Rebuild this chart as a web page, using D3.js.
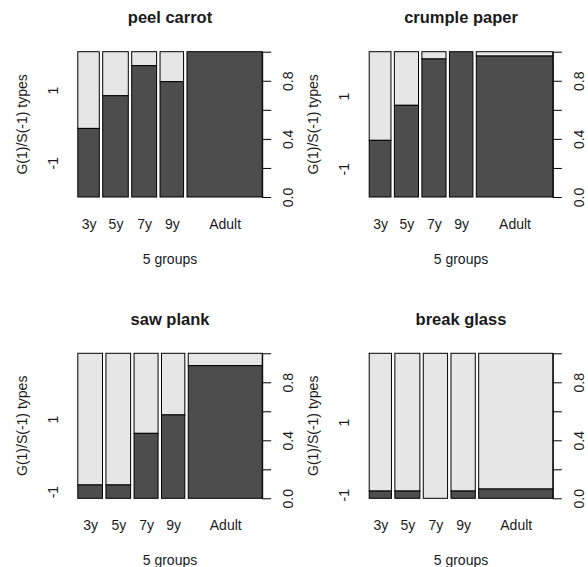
<!DOCTYPE html>
<html>
<head>
<meta charset="utf-8">
<script src="https://cdn.jsdelivr.net/npm/d3@7"></script>
<style>
  body { margin: 0; background: #fff; }
  svg { display: block; font-family: "Liberation Sans", Arial, sans-serif; }
  text { fill: #1a1a1a; }
  .axis text { font-size: 14px; }
  .axis path, .axis line { stroke: #000; }
</style>
</head>
<body>
<svg id="chart"></svg>
<script>
"use strict";
const W = 588, H = 567;

// data
const groups = ["3y", "5y", "7y", "9y", "Adult"];
const tasks = ["peel carrot", "crumple paper", "saw plank", "break glass"];
// relative group sizes (bar widths) per task
const sizePeel    = [12.6, 15.0, 14.6, 13.8, 44.1];
const sizeCrumple = [12.8, 14.2, 14.2, 13.8, 45.0];
const sizeSaw     = [14.5, 14.5, 14.1, 13.7, 43.4];
const sizeBreak   = [13.1, 14.7, 14.3, 14.3, 43.6];
// share of S(-1) answers (dark part) per group
const shareSPeel    = [0.472, 0.697, 0.904, 0.794, 1.0];
const shareSCrumple = [0.390, 0.631, 0.950, 1.0, 0.970];
const shareSSaw     = [0.092, 0.092, 0.448, 0.575, 0.915];
const shareSBreak   = [0.050, 0.050, 0.0, 0.050, 0.064];
const yLevels = ["-1", "1"];
const rightTicks = [0, 0.2, 0.4, 0.6, 0.8, 1.0];

const sizes = [sizePeel, sizeCrumple, sizeSaw, sizeBreak];
const shares = [shareSPeel, shareSCrumple, shareSSaw, shareSBreak];

// plot regions (left, right, top, bottom)
const regions = [
  [77.8, 262.2, 51.7, 197],
  [369.2, 552.8, 51.7, 197],
  [77.8, 262.2, 353.3, 498.3],
  [369.2, 552.8, 353.3, 498.3]
];
const off = 0.02; // gap between bars, like spineplot

const svg = d3.select("#chart").attr("width", W).attr("height", H);
svg.append("rect").attr("width", W).attr("height", H).attr("fill", "#fff");

function drawPanel(i) {
  const [x0, x1, y0, y1] = regions[i];
  const total = d3.sum(sizes[i]);
  const props = sizes[i].map(v => v / total);
  let acc = 0;
  const bars = groups.map((g, j) => {
    const b = {group: g, start: acc, width: props[j], s: shares[i][j]};
    acc += props[j] + off;
    return b;
  });

  const xScale = d3.scaleLinear().domain([0, 1 + off * (groups.length - 1)]).range([x0, x1]);
  const yScale = d3.scaleLinear().domain([0, 1]).range([y1, y0]);
  const g = svg.append("g");

  // light part (G = 1) then dark part (S = -1)
  g.selectAll(".light").data(bars).enter().append("rect")
      .attr("x", d => xScale(d.start))
      .attr("width", d => xScale(d.start + d.width) - xScale(d.start))
      .attr("y", yScale(1))
      .attr("height", d => yScale(d.s) - yScale(1))
      .attr("fill", "#e6e6e6").attr("stroke", "#000").attr("stroke-width", 1);
  g.selectAll(".dark").data(bars.filter(d => d.s > 0)).enter().append("rect")
      .attr("x", d => xScale(d.start))
      .attr("width", d => xScale(d.start + d.width) - xScale(d.start))
      .attr("y", d => yScale(d.s))
      .attr("height", d => yScale(0) - yScale(d.s))
      .attr("fill", "#4d4d4d").attr("stroke", "#000").attr("stroke-width", 1);

  // right axis with proportions
  const right = g.append("g").attr("class", "axis")
      .attr("transform", `translate(${x1},0)`)
      .call(d3.axisRight(yScale).tickValues(rightTicks).tickSize(9).tickSizeOuter(0)
        .tickFormat(d => [0, 0.4, 0.8].includes(d) ? d3.format(".1f")(d) : ""));
  right.selectAll("text")
      .attr("x", null).attr("dy", null)
      .attr("text-anchor", "middle")
      .attr("transform", "translate(31,0) rotate(-90)");

  // left axis: levels at the middle of the first bar's parts
  const first = bars[0];
  const leftScale = d3.scalePoint().domain(yLevels)
      .range([yScale(first.s / 2), yScale((first.s + 1) / 2)]);
  const left = g.append("g").attr("class", "axis")
      .attr("transform", `translate(${x0},0)`)
      .call(d3.axisLeft(leftScale).tickSize(0));
  left.select(".domain").remove();
  left.selectAll("text")
      .attr("x", null).attr("dy", null)
      .attr("text-anchor", "middle")
      .attr("transform", "translate(-20,0) rotate(-90)");

  // bottom axis: group names at bar centres
  const bottom = g.append("g").attr("class", "axis")
      .attr("transform", `translate(0,${y1})`)
      .call(d3.axisBottom(xScale).tickValues(bars.map(d => d.start + d.width / 2))
        .tickSize(0).tickFormat((d, j) => groups[j]));
  bottom.select(".domain").remove();
  bottom.selectAll("text").attr("y", 32).attr("dy", null);

  // titles
  const cx = (x0 + x1) / 2, cy = (y0 + y1) / 2;
  g.append("text")
      .attr("x", cx).attr("y", y0 - 28.4)
      .attr("text-anchor", "middle")
      .style("font-size", "16.5px").style("font-weight", "bold")
      .text(tasks[i]);
  g.append("text")
      .attr("x", cx).attr("y", y1 + 67)
      .attr("text-anchor", "middle")
      .style("font-size", "14px")
      .text("5 groups");
  g.append("text")
      .attr("transform", `translate(${x0 - 51},${cy}) rotate(-90)`)
      .attr("text-anchor", "middle")
      .style("font-size", "14px")
      .text("G(1)/S(-1) types");
}

tasks.forEach((t, i) => drawPanel(i));
</script>
</body>
</html>
